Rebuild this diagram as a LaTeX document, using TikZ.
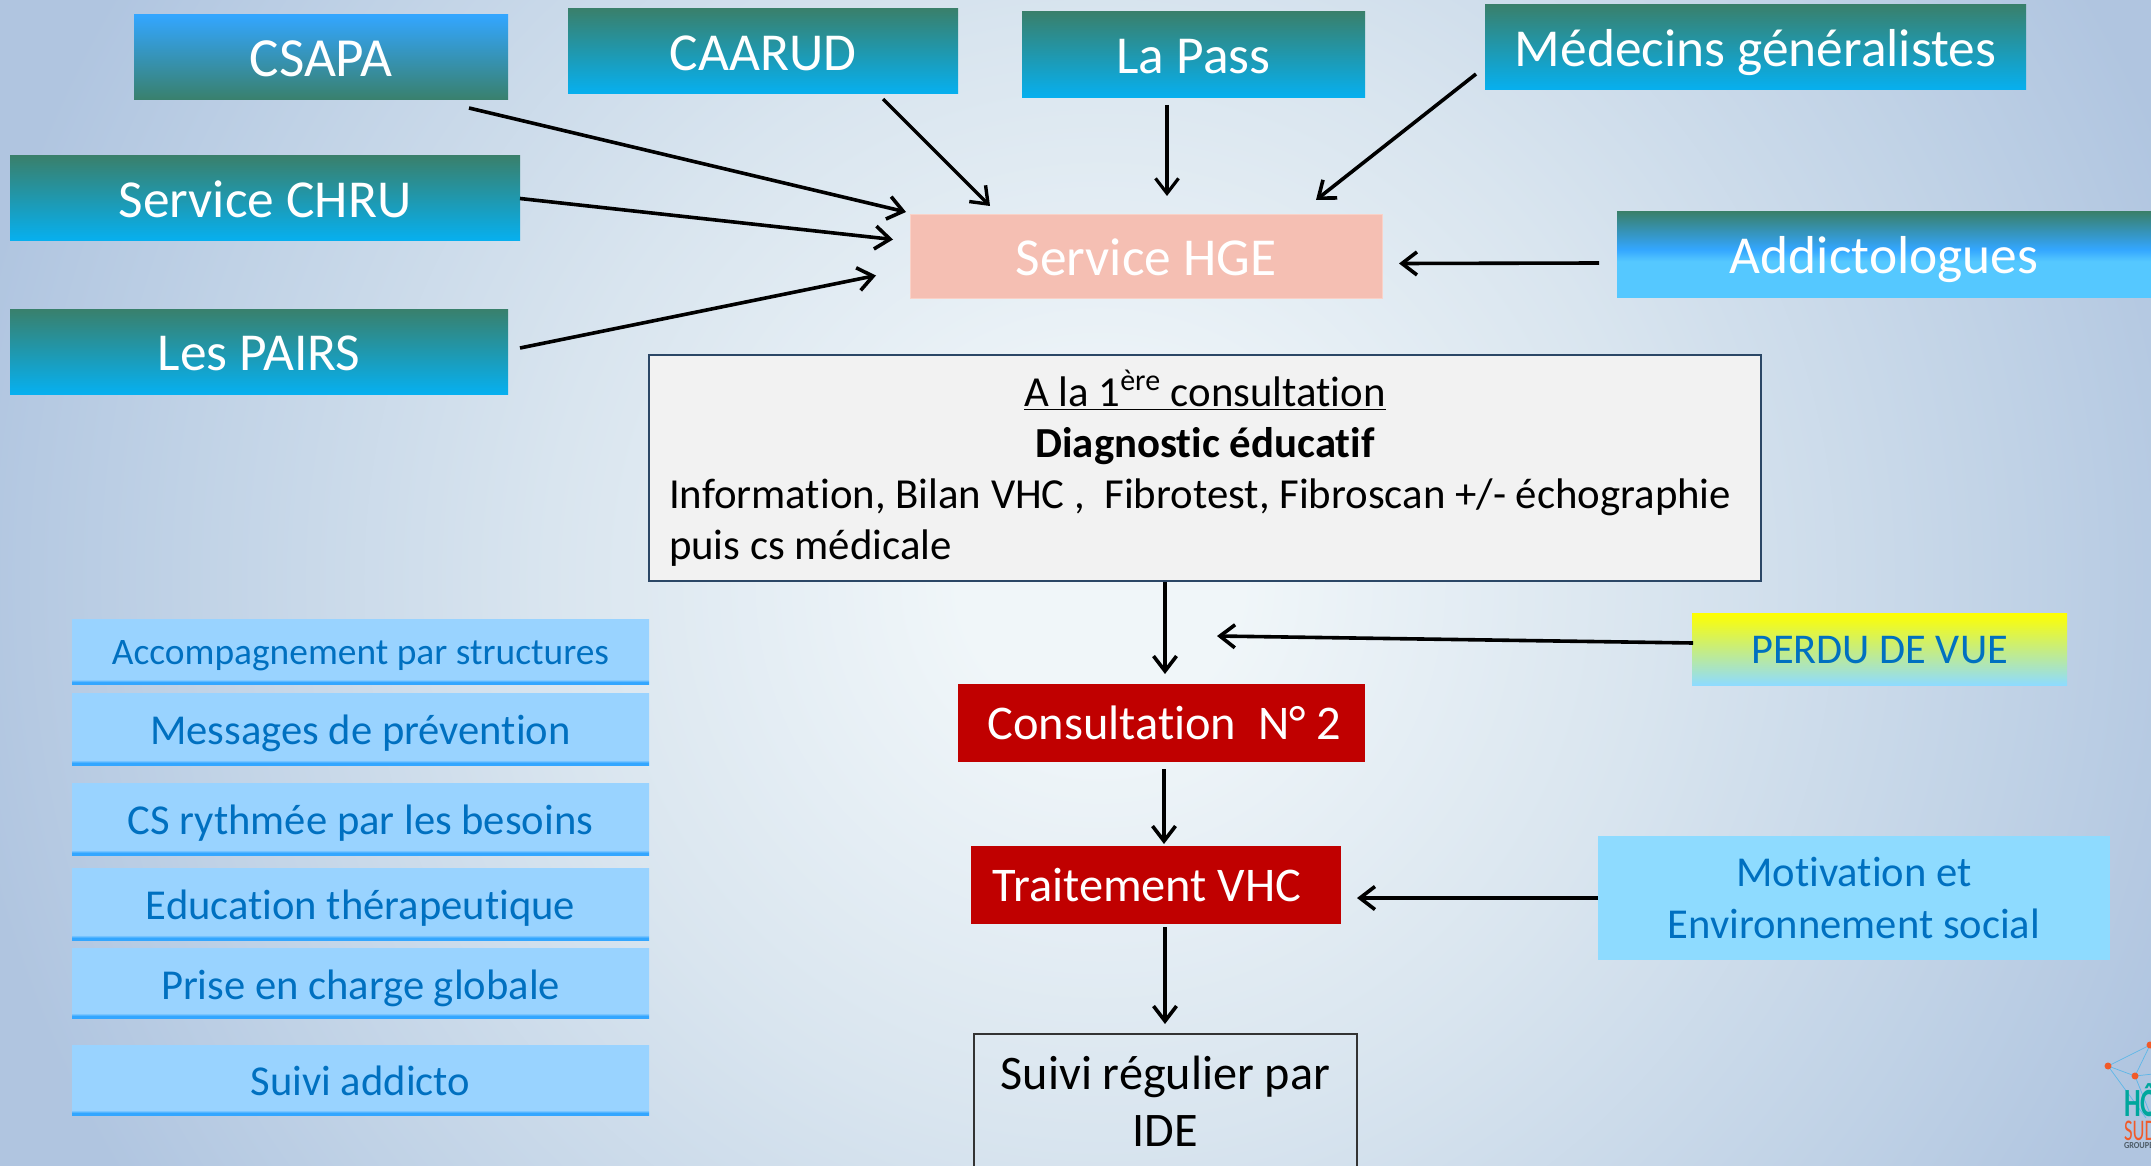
\documentclass[tikz,border=0pt]{standalone}
\usepackage{fontspec}
\setmainfont{Carlito}[Ligatures=NoCommon]
\usetikzlibrary{arrows.meta}
\definecolor{bgin}{HTML}{F0F6F9}
\definecolor{bgouter}{HTML}{B0C5E0}
\definecolor{bga}{HTML}{D9E5EF}
\definecolor{bgb}{HTML}{C0D2E6}
\definecolor{dgreen}{HTML}{39806C}
\definecolor{cyanb}{HTML}{06B0F0}
\definecolor{skyb}{HTML}{33A6FF}
\definecolor{lightb}{HTML}{55C8FF}
\definecolor{listb}{HTML}{99D3FF}
\definecolor{motivb}{HTML}{8EDBFF}
\definecolor{txtb}{HTML}{0070C0}
\definecolor{salmon}{HTML}{F5BFB3}
\definecolor{salmonl}{HTML}{F9D2C8}
\definecolor{redb}{HTML}{C00000}
\definecolor{navyb}{HTML}{2B4766}
\definecolor{paleg}{HTML}{F2F2F2}
\definecolor{logot}{HTML}{00A79D}
\definecolor{logoo}{HTML}{F15A29}
\definecolor{logob}{HTML}{5DB7E8}
\definecolor{logog}{HTML}{4D5B66}
\pgfdeclareradialshading{bgshade}{\pgfpointorigin}{color(0bp)=(bgin); color(3bp)=(bgin); color(12bp)=(bga); color(20bp)=(bgb); color(25bp)=(bgouter); color(50bp)=(bgouter)}
\pgfdeclareverticalshading{addictoshade}{100bp}{color(0bp)=(lightb); color(25bp)=(lightb); color(46bp)=(lightb); color(53bp)=(skyb); color(75bp)=(dgreen); color(100bp)=(dgreen)}
\pgfdeclareverticalshading{listshade}{100bp}{color(0bp)=(skyb); color(25bp)=(skyb); color(26.5bp)=(skyb); color(28.5bp)=(listb); color(75bp)=(listb); color(100bp)=(listb)}
\tikzset{
  box/.style={rectangle,inner sep=0pt,outer sep=0pt,align=center},
  bigtext/.style={text=white,font=\fontsize{26.7}{32}\selectfont,text height=19pt,text depth=0pt},
  grad/.style={box,top color=dgreen,bottom color=cyanb,bigtext},
  gradrev/.style={box,top color=skyb,bottom color=dgreen,bigtext},
  gradaddict/.style={box,shading=addictoshade,bigtext},
  hgebox/.style={box,fill=salmon,draw=salmonl,line width=0.5pt,bigtext},
  redbox/.style={box,fill=redb,text=white,font=\fontsize{24.2}{29}\selectfont,text height=16.2pt,text depth=0pt},
  listbox/.style={box,shading=listshade,text=txtb,font=\fontsize{21.3}{26}\selectfont,text height=15pt,text depth=0pt},
  lostbox/.style={box,top color=yellow,bottom color=motivb,text=txtb,font=\fontsize{21.2}{26}\selectfont,text height=14.5pt,text depth=0pt},
  motivbox/.style={box,fill=motivb,text=txtb,font=\fontsize{21.3}{26}\selectfont},
  whitebox/.style={box,fill=paleg,draw=navyb,line width=1pt,font=\fontsize{21.4}{25.5}\selectfont},
  idebox/.style={box,draw=black!80,line width=1pt,font=\fontsize{24.1}{28.5}\selectfont},
  arr/.style={-{Straight Barb[length=7.5pt,width=11.5pt]},line width=1.8pt,black},
  logoline/.style={logob,line width=0.35pt},
  logodot/.style={logoo}
}
\begin{document}
\begin{tikzpicture}[x=0.5pt,y=-0.5pt]
\useasboundingbox (0,0) rectangle (2151,1166);
\begin{scope}
\clip (0,0) rectangle (2151,1166);
\fill[bgouter] (0,0) rectangle (2151,1166);
\shade[shading=bgshade] (1100,580) circle (1150);

\node[gradrev,minimum width=187pt,minimum height=42.5pt,font=\fontsize{27.6}{32}\selectfont] (csapa) at (321,57.5) {CSAPA};
\node[grad,minimum width=195pt,minimum height=42.5pt] (caarud) at (763,51.5) {CAARUD};
\node[grad,minimum width=171.5pt,minimum height=43pt] (lapass) at (1193.5,55) {La Pass};
\node[grad,minimum width=270.5pt,minimum height=42.5pt] (medecins) at (1755.5,47.5) {Médecins généralistes};
\node[grad,minimum width=255pt,minimum height=42.5pt] (chru) at (265,198.5) {Service CHRU};
\node[grad,minimum width=249pt,minimum height=42.5pt] (pairs) at (259,351.5) {Les PAIRS};
\node[hgebox,minimum width=236pt,minimum height=41.5pt] (hge) at (1146,256.5) {Service HGE};
\node[gradaddict,minimum width=267pt,minimum height=42.5pt] (addicto) at (1884,254.5) {Addictologues};

\node[whitebox,minimum width=556pt,anchor=north,text height=102pt,text depth=11pt,align=left] (first) at (1205,355)
  {\makebox[536pt]{\underline{A la 1\textsuperscript{ère} consultation}}\\
   \makebox[536pt]{\textbf{Diagnostic éducatif}}\\
   Information, Bilan VHC ,\ \ Fibrotest, Fibroscan +/- échographie\\
   puis cs médicale};

\node[redbox,minimum width=203.5pt,minimum height=39pt] (cons2) at (1161.5,723) {\hspace*{3pt}Consultation\ \ N° 2};
\node[redbox,minimum width=185pt,minimum height=39pt] (trait) at (1156,885) {Traitement VHC\hspace*{9pt}};
\node[idebox,minimum width=191.5pt,anchor=north,text height=56pt,text depth=40pt] (suivi) at (1165.5,1034) {Suivi régulier par\\IDE};

\node[lostbox,minimum width=187.5pt,minimum height=36pt] (perdu) at (1879.5,649) {PERDU DE VUE};
\node[motivbox,minimum width=256pt,minimum height=62pt] (motiv) at (1854,898) {Motivation et\\Environnement social};

\node[listbox,minimum width=288.5pt,minimum height=32.5pt,font=\fontsize{18.7}{22}\selectfont,text height=13pt] (l1) at (360.5,651.5) {Accompagnement par structures};
\node[listbox,minimum width=288.5pt,minimum height=36pt] (l2) at (360.5,729) {Messages de prévention};
\node[listbox,minimum width=288.5pt,minimum height=36pt] (l3) at (360.5,819) {CS rythmée par les besoins};
\node[listbox,minimum width=288.5pt,minimum height=36pt] (l4) at (360.5,904) {Education thérapeutique};
\node[listbox,minimum width=288.5pt,minimum height=35pt,text height=16pt] (l5) at (360.5,983) {Prise en charge globale};
\node[listbox,minimum width=288.5pt,minimum height=35pt] (l6) at (360.5,1080) {Suivi addicto};

\coordinate (lostend) at (1217,636);

\draw[arr] ([shift={(-39,8)}]csapa.south east) -- ([shift={(-4,-3)}]hge.north west);
\draw[arr] (chru.east) -- ([shift={(-17,-17)}]hge.west);
\draw[arr] ([shift={(12,-3.5)}]pairs.east) -- ([shift={(-34,19)}]hge.west);
\draw[arr,line width=1.7pt] ([shift={(120,5)}]caarud.south) -- ([shift={(-156,-9)}]hge.north);
\draw[arr,line width=1.6pt] ([shift={(-26.5,7)}]lapass.south) -- ([shift={(21,-19)}]hge.north);
\draw[arr] ([shift={(-9,26.5)}]medecins.west) -- ([shift={(-66,-15)}]hge.north east);
\draw[arr] ([shift={(-18,8.5)}]addicto.west) -- ([shift={(17,7)}]hge.east);
\draw[arr] ([shift={(-40,1)}]first.south) -- ([shift={(3.5,-10)}]cons2.north);
\draw[arr] ([shift={(1,-6)}]perdu.west) -- (lostend);
\draw[arr] ([shift={(2.5,7)}]cons2.south) -- ([shift={(8,-2)}]trait.north);
\draw[arr] ([shift={(9,3)}]trait.south) -- ([shift={(-0.5,-10)}]suivi.north);
\draw[arr] (motiv.west) -- ([shift={(16,13)}]trait.east);

% logo
\draw[logoline] (2108,1066) -- (2135,1076) -- (2150,1045) -- cycle;
\draw[logoline] (2135,1076) -- (2153,1074);
\draw[logoline] (2108,1066) -- (2146,1118);
\draw[logoline] (2135,1076) -- (2151,1116);
\fill[logodot] (2108,1066) circle (3.5);
\fill[logodot] (2135,1076) circle (3.5);
\fill[logodot] (2150,1045) circle (3.5);
\node[box,anchor=base west,text=logot,font=\fontsize{20}{20}\selectfont\bfseries] (logoa) at (2124,1116) {\scalebox{0.66}[1]{HÔ}};
\node[box,anchor=base west,text=logoo,font=\fontsize{15}{15}\selectfont] (logob) at (2124,1140) {\scalebox{0.62}[1]{SUD}};
\node[box,anchor=base west,text=logog,font=\fontsize{4.6}{5}\selectfont\bfseries] (logoc) at (2124,1148) {\scalebox{0.9}[1]{GROUPEM}};
\end{scope}
\end{tikzpicture}
\end{document}
